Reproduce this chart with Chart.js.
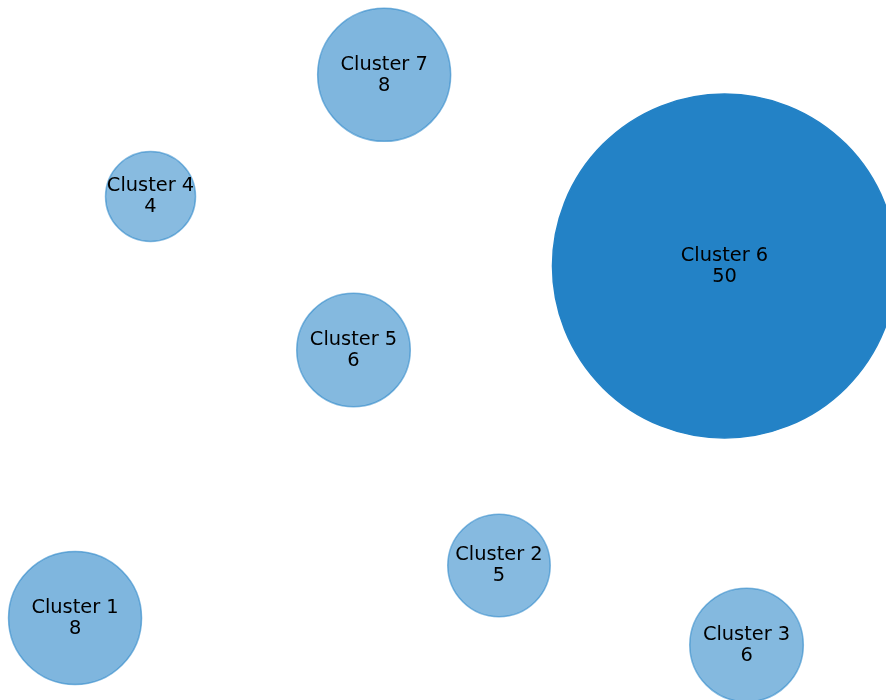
<!DOCTYPE html>
<html>
<head>
<meta charset="utf-8">
<script src="https://cdn.jsdelivr.net/npm/chart.js@4/dist/chart.umd.min.js"></script>
<style>
  html, body { margin: 0; padding: 0; background: #ffffff; }
  #wrap { width: 886px; height: 700px; }
</style>
</head>
<body>
<div id="wrap"><canvas id="chart" width="886" height="700"></canvas></div>
<script>
// Cluster names, member counts and layout positions (x, y in layout units 0-100)
const clusterNames = ['Cluster 1', 'Cluster 2', 'Cluster 3', 'Cluster 4', 'Cluster 5', 'Cluster 6', 'Cluster 7'];
const clusterSizes = [8, 5, 6, 4, 6, 50, 8];
const layoutX = [8.47, 56.32, 84.26, 16.99, 39.90, 81.77, 43.36];
const layoutY = [11.71, 19.21, 7.86, 71.93, 50.0, 62.0, 89.31];

const baseRGB = [35, 130, 198];
const sizeMin = Math.min(...clusterSizes);
const sizeMax = Math.max(...clusterSizes);

// bubble area grows linearly with the count
function bubbleRadius(v) {
  const rMin = 45, rMax = 172;
  const t = (v - sizeMin) / (sizeMax - sizeMin);
  return Math.sqrt(rMin * rMin + t * (rMax * rMax - rMin * rMin));
}
// bigger clusters are drawn more opaque
function bubbleAlpha(v) {
  return Math.min(1, 0.5 + v / 100);
}
function rgba(a) {
  return 'rgba(' + baseRGB[0] + ',' + baseRGB[1] + ',' + baseRGB[2] + ',' + a + ')';
}

const points = clusterNames.map((name, i) => ({ x: layoutX[i], y: layoutY[i], v: clusterSizes[i] }));

// writes the name and count at the centre of each bubble
const bubbleLabels = {
  id: 'bubbleLabels',
  afterDatasetsDraw(chart) {
    const ctx = chart.ctx;
    const meta = chart.getDatasetMeta(0);
    ctx.save();
    ctx.fillStyle = '#000000';
    ctx.font = '19.4px "DejaVu Sans"';
    ctx.textAlign = 'center';
    ctx.textBaseline = 'middle';
    meta.data.forEach((el, i) => {
      ctx.fillText(clusterNames[i], el.x, el.y - 10.3);
      ctx.fillText(String(clusterSizes[i]), el.x, el.y + 10.8);
    });
    ctx.restore();
  }
};

new Chart(document.getElementById('chart'), {
  type: 'bubble',
  data: {
    labels: clusterNames,
    datasets: [{
      data: points,
      clip: false,
      radius: (c) => bubbleRadius(clusterSizes[c.dataIndex]),
      backgroundColor: (c) => rgba(bubbleAlpha(clusterSizes[c.dataIndex])),
      borderColor: (c) => rgba(bubbleAlpha(clusterSizes[c.dataIndex])),
      borderWidth: 1.5
    }]
  },
  options: {
    responsive: false,
    animation: false,
    events: [],
    layout: { padding: 0, autoPadding: false },
    plugins: {
      legend: { display: false },
      tooltip: { enabled: false }
    },
    scales: {
      x: { type: 'linear', min: 0, max: 100, display: false },
      y: { type: 'linear', min: 0, max: 100, display: false }
    }
  },
  plugins: [bubbleLabels]
});
</script>
</body>
</html>
